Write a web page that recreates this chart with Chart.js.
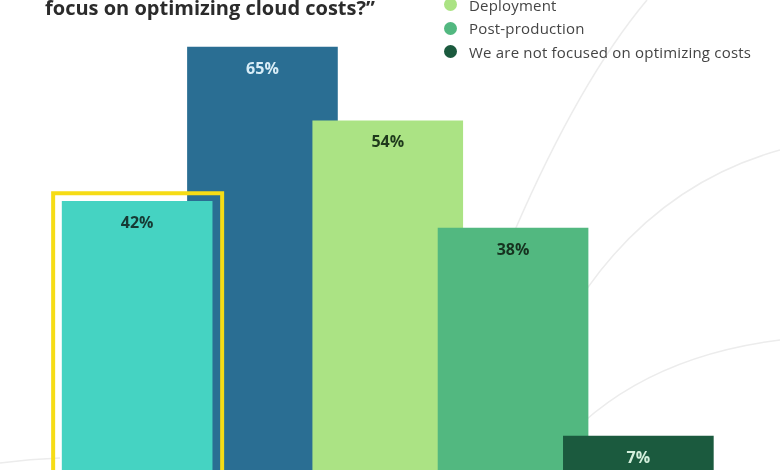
<!DOCTYPE html>
<html>
<head>
<meta charset="utf-8">
<script src="https://cdn.jsdelivr.net/npm/chart.js@4.4.1/dist/chart.umd.min.js"></script>
<style>
    html, body { margin: 0; padding: 0; background: #fff; }
    #wrap { position: relative; width: 780px; height: 470px; overflow: hidden; }
    #bg { position: absolute; left: 0; top: 0; }
    #chartBox { position: absolute; left: 0; top: 0; width: 780px; height: 483px; }
    #title {
        position: absolute; left: 45px; bottom: 450px;
        font: bold 20px 'Open Sans', Lato, sans-serif; color: #2b2b2b;
        line-height: 24px; white-space: nowrap;
    }
    #legend { position: absolute; left: 444px; top: -54px; }
    .item { height: 23.5px; display: flex; align-items: center;
        font: 15px 'Open Sans', Lato, sans-serif; color: #444; white-space: nowrap; letter-spacing: 0.2px; }
    .dot { width: 13px; height: 13px; border-radius: 50%; margin-right: 12px; }
</style>
</head>
<body>
<div id="wrap">
    <svg id="bg" width="780" height="470">
        <g fill="none" stroke="#ececec" stroke-width="1.5">
            <path d="M 647 0 Q 580 80 515 230"/>
            <path d="M 520 420 Q 600 200 780 150"/>
            <path d="M 540 470 Q 620 360 780 340"/>
            <path d="M 0 463 Q 30 459 60 458"/>
        </g>
    </svg>
    <div id="chartBox"><canvas id="stageChart"></canvas></div>
    <div id="title">“At what stage of the software development lifecycle does your team<br>focus on optimizing cloud costs?”</div>
    <div id="legend"></div>
</div>
<script>
// survey answers, one bar each
const stages = ['Planning', 'Development', 'Deployment', 'Post-production', 'We are not focused on optimizing costs'];
const shares = [42, 65, 54, 38, 7];
const barColors = ['#45D3C2', '#2A6E93', '#ABE384', '#52B880', '#1B5A3E'];
const labelColors = ['#163a34', '#d8edf7', '#1f3a1c', '#16321f', '#d4efdc'];
// stacking order of the overlapping bars (lower = drawn on top)
const drawOrder = [4, 5, 3, 2, 1];

const legendEl = document.getElementById('legend');
legendEl.innerHTML = stages.map((name, i) => `
    <div class="item"><span class="dot" style="background:${barColors[i]}"></span>${name}</div>
`).join('');

const barLabels = {
    id: 'barLabels',
    afterDatasetsDraw(chart) {
        const ctx = chart.ctx;
        // yellow highlight around the first bar
        const first = chart.getDatasetMeta(0).data[0];
        if (first) {
            const half = first.width / 2;
            ctx.save();
            ctx.strokeStyle = '#F6DC16';
            ctx.lineWidth = 4;
            ctx.strokeRect(first.x - half - 9, first.y - 8, first.width + 19, first.base - first.y + 20);
            ctx.restore();
        }
        ctx.save();
        ctx.font = 'bold 16px "Open Sans", Lato, sans-serif';
        ctx.textAlign = 'center';
        ctx.textBaseline = 'middle';
        chart.data.datasets.forEach((ds, i) => {
            const bar = chart.getDatasetMeta(i).data[i];
            if (!bar) return;
            ctx.fillStyle = labelColors[i];
            ctx.fillText(shares[i] + '%', bar.x, bar.y + 22);
        });
        ctx.restore();
    }
};

new Chart(document.getElementById('stageChart'), {
    type: 'bar',
    data: {
        labels: stages,
        datasets: stages.map((name, i) => ({
            label: name,
            data: shares.map((v, j) => (j === i ? v : null)),
            backgroundColor: barColors[i],
            order: drawOrder[i],
            grouped: false,
            barThickness: 150,
            borderWidth: 0,
            clip: false,
        })),
    },
    options: {
        responsive: true,
        maintainAspectRatio: false,
        animation: false,
        layout: { padding: { left: 74.5, right: 79, top: 0, bottom: 0 } },
        plugins: {
            legend: { display: false },
            tooltip: { enabled: false },
            title: { display: false },
        },
        scales: {
            x: { display: false, offset: true },
            y: { display: false, min: 0, max: 72 },
        },
    },
    plugins: [barLabels],
});
</script>
</body>
</html>
